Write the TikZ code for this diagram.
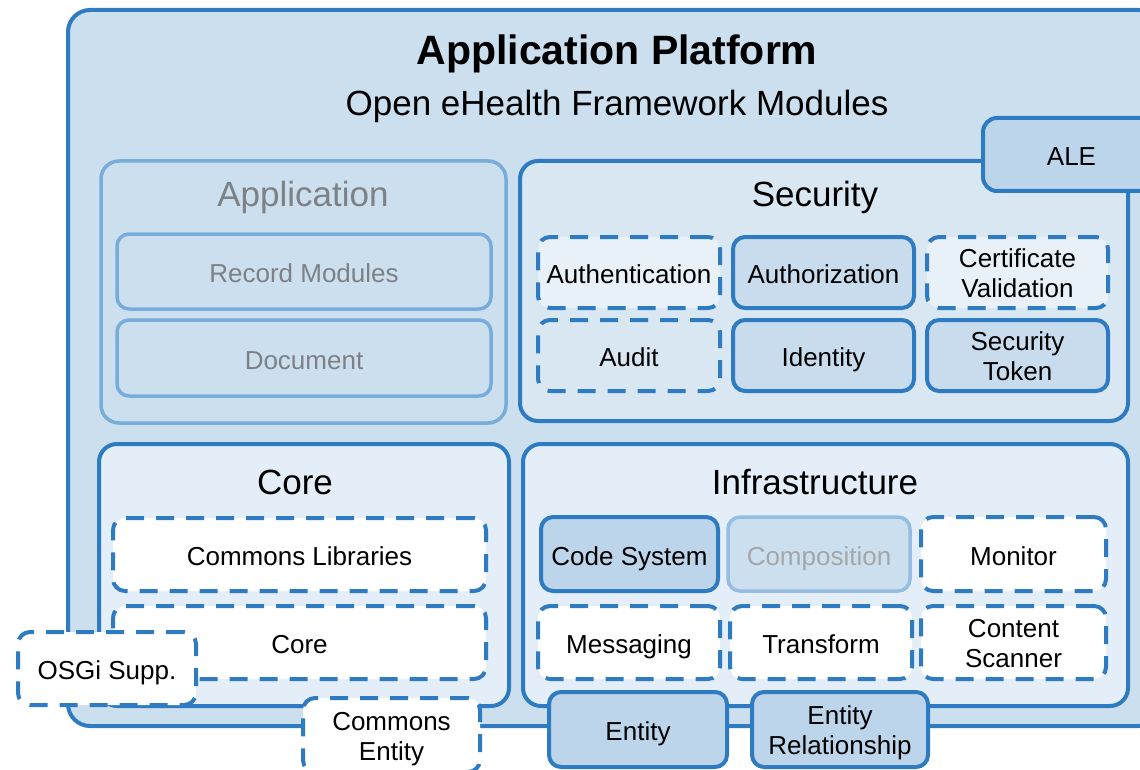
\documentclass[tikz,border=0pt]{standalone}
\usepackage{fontspec}
\setmainfont{Liberation Sans}
\usepackage{tikz}
\usetikzlibrary{positioning}
\definecolor{edge}{HTML}{2E7BC1}
\definecolor{platfill}{HTML}{CBDFEF}
\definecolor{secfill}{HTML}{D9E7F3}
\definecolor{corefill}{HTML}{E3EEF8}
\definecolor{modfill}{HTML}{BCD5EA}
\definecolor{midfill}{HTML}{C9DCEE}
\definecolor{lightfill}{HTML}{E8F0F8}
\definecolor{fadeedge}{HTML}{78ACDB}
\definecolor{fadefill}{HTML}{CCDFEF}
\definecolor{fadetext}{HTML}{7C8186}

\begin{document}
\begin{tikzpicture}[x=1pt, y=-1pt,
    mod/.style={draw=edge, line width=4pt, rounded corners=12pt, align=center,
      inner sep=0pt, text height=24pt, text depth=2pt,
      font=\fontsize{26}{30}\selectfont},
    twoline/.style={text height=52pt},
    solidmod/.style={mod, fill=modfill},
    dashed mod/.style={dash pattern=on 18pt off 12pt},
    dashmod/.style={mod, fill=white, dashed mod},
    fademod/.style={mod, line width=3.5pt, draw=fadeedge, fill=fadefill, text=fadetext},
    area/.style={draw=edge, line width=4pt, rounded corners=18pt, inner sep=0pt},
    head/.style={font=\fontsize{35}{40}\selectfont},
    sz/.style 2 args={minimum width=#1pt, minimum height=#2pt}]

  \useasboundingbox (0, 0) rectangle (1140, 770);
  \clip (0, 0) rectangle (1140, 770);

  % platform
  \node[area, fill=platfill, rounded corners=22pt, sz={1092}{716}] (plat) at (614, 368) {};
  \node[font=\fontsize{41}{46}\selectfont\bfseries] (title) at (617, 54) {Application Platform};
  \node[head] (subtitle) at (617, 106) {Open eHealth Framework Modules};

  % application (not yet available)
  \node[area, line width=3.5pt, draw=fadeedge, fill=fadefill, sz={405}{262}] (app) at (303.5, 292) {};
  \node[head, text=fadetext] (apptitle) at (303, 197) {Application};
  \node[fademod, sz={374}{75}] (records) at (304, 271.5) {Record Modules};
  \node[fademod, sz={374}{76}] (document) at (304, 358) {Document};

  % security
  \node[area, fill=secfill, sz={608}{260}] (sec) at (824, 291) {};
  \node[solidmod, rounded corners=14pt, sz={177}{73}] (ale) at (1071.5, 154.5) {ALE};
  \node[head] (sectitle) at (815, 197) {Security};
  \node[mod, fill=lightfill, dashed mod, sz={182}{71}] (authn) at (629, 272.5) {Authentication};
  \node[solidmod, fill=midfill, sz={181}{71}] (authz) at (823.5, 272.5) {Authorization};
  \node[mod, twoline, fill=lightfill, dashed mod, sz={181}{71}] (cert) at (1017.5, 272.5) {Certificate\\Validation};
  \node[mod, fill=secfill, dashed mod, sz={182}{71}] (audit) at (629, 355.5) {Audit};
  \node[solidmod, fill=midfill, sz={181}{71}] (identity) at (823.5, 355.5) {Identity};
  \node[solidmod, twoline, fill=midfill, sz={181}{71}] (token) at (1017.5, 355.5) {Security\\Token};

  % core
  \node[area, fill=corefill, sz={410}{262}] (core) at (304, 575) {};
  \node[head] (coretitle) at (295, 482) {Core};
  \node[dashmod, sz={373}{73}] (libs) at (299.5, 554.5) {Commons Libraries};
  \node[dashmod, sz={373}{73}] (coremod) at (299.5, 642.5) {Core};

  % infrastructure
  \node[area, fill=corefill, sz={605}{262}] (infra) at (825.5, 575) {};
  \node[head] (infratitle) at (815, 482) {Infrastructure};
  \node[solidmod, sz={177}{74}] (codesys) at (629.5, 554) {Code System};
  \node[fademod, draw=fadeedge!80, text=fadetext!70, sz={182}{74}] (compo) at (819, 554) {Composition};
  \node[dashmod, sz={185}{74}] (monitor) at (1013.5, 554) {Monitor};
  \node[dashmod, sz={182}{73}] (msg) at (629, 642.5) {Messaging};
  \node[dashmod, sz={182}{73}] (transform) at (821, 642.5) {Transform};
  \node[dashmod, twoline, sz={185}{73}] (scanner) at (1013.5, 642.5) {Content\\Scanner};

  % modules on the border
  \node[dashmod, sz={178}{73}] (osgi) at (107, 668.5) {OSGi Supp.};
  \node[dashmod, twoline, sz={177}{74}] (centity) at (391.5, 735) {Commons\\Entity};
  \node[solidmod, sz={178}{75}] (entity) at (638, 729.5) {Entity};
  \node[solidmod, twoline, sz={176}{75}] (entrel) at (840, 729.5) {Entity\\Relationship};

\end{tikzpicture}
\end{document}
